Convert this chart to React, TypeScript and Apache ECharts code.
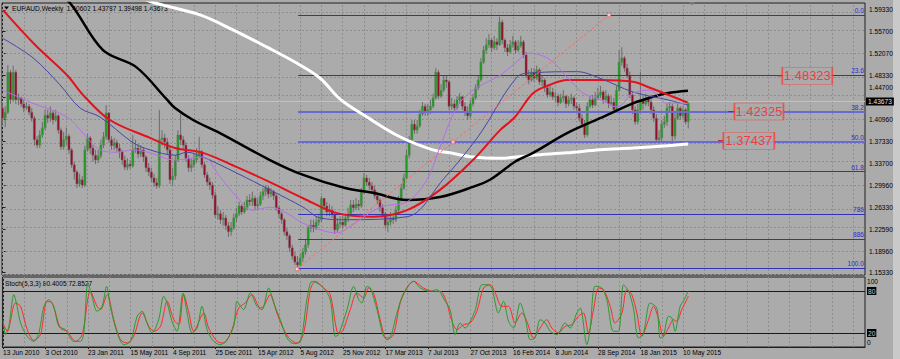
import React, { useEffect, useRef } from 'react';
import * as echarts from 'echarts';

// ---------------- data ----------------
const FIRST_OPEN = 1.429;
const CLOSES = [
  1.412,1.422,1.489,1.443,1.489,1.443,1.446,1.436,1.429,1.432,
  1.422,1.412,1.376,1.367,1.384,1.396,1.417,1.412,1.421,1.409,
  1.416,1.392,1.364,1.376,1.382,1.359,1.334,1.322,1.302,1.309,
  1.300,1.359,1.379,1.362,1.350,1.342,1.349,1.367,1.381,1.421,
  1.376,1.366,1.371,1.362,1.356,1.342,1.330,1.335,1.332,1.359,
  1.362,1.352,1.359,1.347,1.329,1.322,1.312,1.304,1.299,1.376,
  1.379,1.372,1.359,1.309,1.315,1.342,1.384,1.376,1.367,1.345,
  1.329,1.334,1.342,1.350,1.356,1.334,1.317,1.305,1.300,1.283,
  1.250,1.252,1.242,1.245,1.232,1.222,1.228,1.245,1.252,1.265,
  1.255,1.262,1.275,1.272,1.278,1.265,1.268,1.282,1.289,1.295,
  1.285,1.289,1.282,1.262,1.252,1.242,1.222,1.215,1.195,1.181,
  1.171,1.166,1.178,1.188,1.200,1.228,1.233,1.228,1.238,1.242,
  1.278,1.265,1.255,1.258,1.250,1.225,1.235,1.238,1.233,1.245,
  1.252,1.267,1.262,1.268,1.265,1.289,1.312,1.305,1.299,1.292,
  1.282,1.275,1.262,1.252,1.233,1.238,1.245,1.242,1.258,1.275,
  1.295,1.312,1.350,1.376,1.402,1.392,1.399,1.419,1.432,1.422,
  1.426,1.432,1.446,1.489,1.449,1.459,1.476,1.473,1.432,1.436,
  1.429,1.443,1.448,1.432,1.422,1.416,1.436,1.446,1.463,1.476,
  1.506,1.526,1.535,1.543,1.530,1.540,1.535,1.573,1.543,1.530,
  1.523,1.535,1.540,1.526,1.533,1.540,1.518,1.484,1.476,1.489,
  1.479,1.493,1.473,1.476,1.463,1.451,1.456,1.448,1.449,1.438,
  1.446,1.449,1.436,1.443,1.446,1.432,1.429,1.412,1.402,1.384,
  1.432,1.443,1.434,1.446,1.451,1.456,1.443,1.449,1.436,1.439,
  1.426,1.459,1.506,1.513,1.496,1.484,1.451,1.426,1.406,1.426,
  1.443,1.436,1.446,1.439,1.426,1.412,1.376,1.379,1.402,1.406,
  1.429,1.432,1.382,1.412,1.429,1.416,1.426,1.40602,1.43673
];
const HIGHS = [
  1.438,1.432,1.501,1.493,1.500,1.493,1.453,1.448,1.443,1.439,
  1.436,1.429,1.416,1.382,1.392,1.406,1.426,1.426,1.432,1.426,
  1.426,1.419,1.396,1.389,1.396,1.386,1.362,1.339,1.325,1.319,
  1.315,1.366,1.386,1.382,1.367,1.359,1.359,1.376,1.389,1.434,
  1.422,1.382,1.379,1.376,1.369,1.359,1.349,1.345,1.342,1.384,
  1.376,1.369,1.367,1.364,1.350,1.337,1.329,1.319,1.312,1.426,
  1.392,1.386,1.379,1.366,1.329,1.350,1.392,1.422,1.382,1.372,
  1.350,1.345,1.352,1.362,1.381,1.359,1.339,1.322,1.312,1.305,
  1.289,1.265,1.258,1.255,1.250,1.238,1.238,1.252,1.262,1.272,
  1.268,1.272,1.282,1.285,1.289,1.282,1.278,1.289,1.295,1.300,
  1.299,1.295,1.292,1.285,1.265,1.255,1.245,1.228,1.218,1.200,
  1.188,1.181,1.185,1.195,1.208,1.233,1.242,1.242,1.248,1.252,
  1.282,1.278,1.272,1.268,1.265,1.255,1.245,1.248,1.250,1.252,
  1.262,1.275,1.275,1.278,1.275,1.295,1.320,1.317,1.312,1.305,
  1.299,1.289,1.278,1.268,1.255,1.248,1.255,1.252,1.265,1.282,
  1.302,1.319,1.359,1.382,1.409,1.409,1.409,1.426,1.439,1.436,
  1.436,1.443,1.453,1.496,1.493,1.469,1.483,1.483,1.476,1.446,
  1.443,1.449,1.454,1.449,1.439,1.432,1.443,1.453,1.469,1.483,
  1.513,1.533,1.546,1.553,1.546,1.550,1.546,1.582,1.577,1.546,
  1.536,1.543,1.550,1.543,1.543,1.550,1.543,1.523,1.493,1.496,
  1.496,1.500,1.496,1.484,1.479,1.468,1.466,1.463,1.456,1.453,
  1.453,1.459,1.451,1.449,1.453,1.449,1.439,1.436,1.419,1.409,
  1.439,1.449,1.451,1.456,1.463,1.466,1.459,1.459,1.453,1.449,
  1.446,1.466,1.526,1.531,1.516,1.503,1.490,1.456,1.432,1.436,
  1.490,1.449,1.453,1.449,1.446,1.432,1.419,1.392,1.409,1.416,
  1.436,1.439,1.436,1.422,1.436,1.432,1.432,1.429,1.43787
];
const LOWS = [
  1.401,1.397,1.419,1.436,1.439,1.436,1.434,1.431,1.422,1.426,
  1.417,1.406,1.366,1.362,1.362,1.379,1.392,1.404,1.406,1.402,
  1.406,1.386,1.359,1.359,1.367,1.352,1.329,1.309,1.295,1.297,
  1.295,1.297,1.356,1.352,1.339,1.335,1.337,1.345,1.362,1.376,
  1.371,1.359,1.359,1.356,1.345,1.334,1.325,1.325,1.327,1.329,
  1.354,1.345,1.347,1.339,1.322,1.315,1.305,1.297,1.294,1.295,
  1.366,1.362,1.352,1.302,1.299,1.309,1.339,1.367,1.359,1.339,
  1.322,1.322,1.329,1.337,1.345,1.329,1.312,1.299,1.292,1.277,
  1.245,1.242,1.235,1.232,1.225,1.213,1.215,1.225,1.238,1.248,
  1.250,1.252,1.258,1.265,1.265,1.258,1.258,1.265,1.275,1.282,
  1.278,1.280,1.275,1.257,1.245,1.235,1.216,1.208,1.188,1.175,
  1.166,1.161,1.165,1.171,1.183,1.195,1.221,1.221,1.225,1.232,
  1.238,1.258,1.248,1.248,1.245,1.218,1.221,1.228,1.227,1.230,
  1.238,1.248,1.255,1.258,1.258,1.262,1.285,1.299,1.292,1.285,
  1.277,1.268,1.255,1.245,1.227,1.221,1.232,1.235,1.238,1.255,
  1.272,1.292,1.309,1.345,1.372,1.386,1.386,1.396,1.416,1.416,
  1.416,1.419,1.429,1.443,1.444,1.446,1.456,1.463,1.426,1.426,
  1.422,1.426,1.436,1.426,1.416,1.409,1.412,1.432,1.443,1.459,
  1.473,1.503,1.520,1.530,1.523,1.526,1.526,1.533,1.536,1.523,
  1.516,1.520,1.530,1.520,1.523,1.530,1.513,1.479,1.469,1.473,
  1.473,1.476,1.468,1.466,1.456,1.446,1.448,1.443,1.439,1.432,
  1.436,1.439,1.429,1.432,1.436,1.426,1.422,1.406,1.396,1.379,
  1.381,1.429,1.429,1.432,1.443,1.446,1.436,1.439,1.429,1.432,
  1.422,1.422,1.456,1.500,1.490,1.479,1.446,1.419,1.401,1.402,
  1.422,1.426,1.432,1.432,1.419,1.406,1.371,1.371,1.372,1.396,
  1.399,1.422,1.367,1.376,1.409,1.409,1.412,1.402,1.39498
];

const DATE_LABELS = [
  '13 Jun 2010','3 Oct 2010','23 Jan 2011','15 May 2011','4 Sep 2011','25 Dec 2011',
  '15 Apr 2012','5 Aug 2012','25 Nov 2012','17 Mar 2013','7 Jul 2013','27 Oct 2013',
  '16 Feb 2014','8 Jun 2014','28 Sep 2014','18 Jan 2015','10 May 2015'
];
const DATE_STEP = 16;
const PRICE_TICKS = [1.5933,1.557,1.5207,1.4833,1.447,1.4096,1.3733,1.337,1.2996,1.2633,1.2259,1.1896,1.1533];
const FIB_NAMES = ['0.0','23.6','38.2','50.0','61.8','786','886','100.0'];
const FIB_PRICES = [1.5849,1.4839,1.4229,1.3728,1.3227,1.2511,1.2092,1.1607];
const LEVEL_PRICES = [1.48323,1.42325,1.37437];
const TREND_FROM = [110.8, 1.1595];
const TREND_TO = [228.2, 1.5849];

// moving averages: [bar index, price]
const MA_WHITE = [[48,1.620],[57.4,1.605],[74.3,1.585],[86.7,1.560],[99.5,1.531],[110.8,1.504],[119.5,1.479],[127,1.444],[137.1,1.414],[149.5,1.381],[161.9,1.359],[168.4,1.354],[177,1.347],[187.2,1.345],[199.6,1.350],[212.4,1.354],[224.8,1.359],[237.2,1.362],[250,1.366],[257.9,1.369]];
const MA_BLACK = [[19.7,1.623],[25.4,1.605],[37.8,1.526],[50.2,1.498],[61.9,1.443],[64.9,1.429],[71.7,1.409],[81.8,1.387],[100.6,1.342],[113.1,1.317],[128.9,1.295],[139.4,1.287],[152.2,1.275],[164.6,1.280],[177,1.297],[183.4,1.309],[192.8,1.339],[199.6,1.354],[212.4,1.387],[224.8,1.412],[237.2,1.437],[244.7,1.448],[250,1.454],[257.9,1.458]];
const MA_RED = [[0.2,1.593],[12.2,1.535],[24.3,1.484],[30.3,1.451],[40.4,1.409],[55.5,1.379],[64.9,1.362],[75.4,1.354],[88.2,1.330],[100.6,1.305],[113.1,1.278],[125.8,1.253],[139.4,1.247],[152.2,1.258],[164.6,1.292],[177,1.342],[187.2,1.392],[192.8,1.414],[199.6,1.454],[206,1.468],[212.4,1.476],[224.8,1.476],[237.2,1.473],[243.6,1.463],[257.9,1.438]];
const MA_BLUE = [[0,1.546],[11.5,1.513],[21.6,1.468],[29.2,1.429],[36.7,1.414],[49.1,1.371],[55.5,1.359],[64.9,1.350],[69.4,1.355],[75.4,1.347],[88.2,1.320],[100.6,1.292],[113.1,1.263],[119.5,1.245],[128.9,1.242],[152.2,1.247],[165.7,1.309],[178.9,1.381],[193.6,1.481],[199.6,1.488],[216.1,1.490],[224.8,1.479],[237.2,1.456],[250,1.443],[257.9,1.434]];
const MA_PURPLE = [[0,1.459],[11.5,1.437],[24.3,1.414],[30.3,1.387],[36.7,1.359],[43.1,1.355],[49.1,1.359],[55.5,1.354],[64.9,1.342],[75.4,1.347],[81.8,1.314],[88.2,1.280],[94.2,1.258],[100.6,1.263],[107,1.253],[113.1,1.236],[125.8,1.220],[128.9,1.225],[142,1.263],[152.2,1.272],[159.7,1.309],[164.6,1.364],[171,1.431],[177,1.459],[187.2,1.484],[192.8,1.504],[198.5,1.521],[206,1.510],[212.4,1.481],[218.4,1.454],[224.8,1.443],[231.2,1.431],[237.2,1.454],[243.6,1.459],[250,1.437],[257.9,1.437]];

// stochastic (5,3,3): [bar index, value]
const STOCH_K = [[0,39],[1,17.6],[2.2,29.5],[4.1,74.8],[5.3,58.1],[6.6,34.3],[9.1,15.2],[11.6,8.1],[13.5,20],[15.4,58.1],[17.2,67.6],[19.1,58.1],[21,29.5],[23.5,24.8],[26.6,8.1],[29.2,8.1],[30.4,20],[32,91.4],[33.5,72.4],[35.4,51],[37.3,58.1],[39,86.7],[40.4,58.1],[43,20],[45.5,3.3],[48,8.1],[50.5,43.8],[52.4,51],[54.2,34.3],[56.1,20],[58.6,39],[60.5,72.4],[61.8,62.9],[63.6,36.7],[65.5,22.4],[67.8,77.1],[69.3,48.6],[71.2,20],[73.1,27.1],[74.9,58.1],[76.8,24.8],[79.3,8.1],[81.8,3.3],[84.3,10.5],[86.8,29.5],[88.1,65.2],[89.4,58.1],[90.6,53.3],[93.1,77.1],[95.6,58.1],[97.5,53.3],[100,84.3],[101.9,62.9],[104.4,39],[106.9,12.9],[109.4,4.8],[112,8.1],[114.4,67.6],[116.3,93.8],[118.2,91.4],[120.7,84.3],[123.2,67.6],[125.1,15.2],[126.3,17.6],[129.5,53.3],[132,86.7],[133.9,67.6],[135.1,62.9],[137,86.7],[138.3,84.3],[140.8,53.3],[143.3,15.2],[145.2,12.9],[148.3,48.6],[150.8,77.1],[154.6,93.8],[157.1,84.3],[160.8,79.5],[163.3,81.9],[166.5,65.2],[168.4,52],[170.2,17.6],[172.1,34.3],[174,27.1],[175.9,36.7],[177.8,53.3],[180.3,89],[182.2,89],[184,84.3],[186.5,48.6],[188.4,65.2],[190.3,36.7],[192.2,27.1],[194.7,62.9],[196.6,41.4],[198.5,10.5],[200.3,12.9],[202.2,39],[204.1,34.3],[206,22.4],[208.5,17.6],[211.6,34.3],[213.5,27.1],[216,48.6],[217.3,55.7],[219.8,3.3],[221,24.8],[222.9,86.7],[225.4,84.3],[227.3,67.6],[229.8,22.4],[231.7,22.4],[233.6,89],[235.5,79.5],[237.3,55.7],[239.2,12.9],[241.1,20],[243.6,62.9],[246.1,55.7],[247.4,12.9],[248.6,15.2],[250.5,43.8],[251.8,41.4],[253,22.4],[254.9,58.1],[256.1,65.2],[258,80.4005]];
const STOCH_D = [[0,34.3],[1.6,22.4],[4.7,62.9],[6.6,58.1],[9.1,24.8],[11.6,9.5],[14.1,17.6],[16.6,65.2],[18.5,62.9],[21.6,27.1],[24.1,22.4],[27.3,8.1],[29.8,17.6],[32.9,79.5],[35.4,58.1],[36.7,53.3],[39.2,74.8],[41.7,39],[44.2,10.5],[46.7,5.7],[49.2,15.2],[52.4,48.6],[54.9,29.5],[56.8,22.4],[59.3,29.5],[61.8,65.2],[64.3,39],[66.2,31.9],[68,74.8],[70,48.6],[71.8,22.4],[75.6,48.6],[77.4,27.1],[80.6,8.1],[83.1,5.7],[86.2,24.8],[88.7,55.7],[91.2,62.9],[93.7,74.8],[96.9,55.7],[98.1,58.1],[100.6,74.8],[103.1,48.6],[105.7,24.8],[108.2,10.5],[110.7,5.7],[113.2,20],[115.7,81.9],[117.6,93.8],[120.7,84.3],[123.2,74.8],[125.7,22.4],[127,20],[130.7,53.3],[133.2,77.1],[135.8,70],[137.6,84.3],[139.5,77.1],[142,39],[144.5,10.5],[147,17.6],[149.5,62.9],[152.1,84.3],[154.6,93.8],[158.3,84.3],[162.1,79.5],[164.6,79.5],[167.1,62.9],[168.4,43.8],[170.9,24.8],[173.4,31.9],[175.9,34.3],[178.4,51],[180.9,84.3],[183.4,89],[185.3,77.1],[187.8,58.1],[190.3,58.1],[192.8,34.3],[195.3,48.6],[197.2,36.7],[199.7,12.9],[202.2,27.1],[204.7,39],[206.6,27.1],[209.1,20],[211.6,29.5],[214.1,31.9],[216.6,43.8],[218.5,48.6],[220.4,20],[222.3,53.3],[224.2,84.3],[226.1,81.9],[228.6,58.1],[230.4,34.3],[233,48.6],[234.8,81.9],[236.7,74.8],[238.6,48.6],[240.5,15.2],[243,39],[244.9,58.1],[246.7,41.4],[248.6,15.2],[250.5,27.1],[252.4,39],[253.6,36.7],[255.5,53.3],[257.4,67.6],[258,72.8527]];
const STOCH_LEVELS = [20, 80];
const STOCH_TICKS = [0, 20, 80, 100];

// ---------------- layout / style ----------------
const BG = '#ababab';
const GRIDC = '#8e8e8e';
const FONT = '"Liberation Sans", Arial, sans-serif';
const FS = 6.6;
const GL = 2, GW = 863;
const MAIN_TOP = 3, MAIN_H = 272;
const ST_TOP = 277, ST_H = 70;
const X_MIN = -0.2, X_MAX = 324.5;
const Y_MIN = 1.1494, Y_MAX = 1.605;
const FIB_FROM_BAR = 111.2;
const BOX_BAR = [302.8, 284.6, 280.8];
const BOX_W = [50, 49, 51];
const STUB = [[291.4, 293.6], [273.0, 275.6], [269.2, 271.4]];
const UP = '#1c9e1c';
const DOWN = '#920e28';
const WICK = '#6c6c6c';

function buildOption() {
  const candles = CLOSES.map((c, i) => {
    const o = i === 0 ? FIRST_OPEN : CLOSES[i - 1];
    return [i, o, c, Math.min(LOWS[i], o, c), Math.max(HIGHS[i], o, c)];
  });
  const last = candles[candles.length - 1];
  const vGrid: number[] = [];
  for (let b = 0; b <= X_MAX; b += 8) vGrid.push(b);
  const dateTicks = DATE_LABELS.map((_, i) => i * DATE_STEP);

  const dash = { type: [2, 2] as any, color: GRIDC, width: 1 };
  const lineMA = (data: number[][], color: string, width: number, z: number) => ({
    type: 'line', xAxisIndex: 0, yAxisIndex: 0, data, smooth: 0.35, symbol: 'none', silent: true, z,
    lineStyle: { color, width }, clip: true,
  });

  return {
    animation: false,
    backgroundColor: BG,
    textStyle: { fontFamily: FONT },
    grid: [
      { left: GL, top: MAIN_TOP, width: GW, height: MAIN_H, show: true, borderColor: '#202020', borderWidth: 1, backgroundColor: 'transparent' },
      { left: GL, top: ST_TOP, width: GW, height: ST_H, show: true, borderColor: '#202020', borderWidth: 1, backgroundColor: 'transparent' },
    ],
    xAxis: [
      { type: 'value', gridIndex: 0, min: X_MIN, max: X_MAX, show: false, splitLine: { show: false } },
      {
        type: 'value', gridIndex: 1, min: X_MIN, max: X_MAX, splitLine: { show: false },
        axisLine: { show: true, lineStyle: { color: '#202020' } },
        axisTick: { show: true, customValues: dateTicks, length: 2, lineStyle: { color: '#202020' } },
        axisLabel: {
          customValues: dateTicks, align: 'left', margin: 1.5, fontSize: FS, color: '#000', fontFamily: FONT,
          formatter: (v: number) => DATE_LABELS[Math.round(v / DATE_STEP)] || '',
        },
      },
    ],
    yAxis: [
      {
        type: 'value', gridIndex: 0, position: 'right', min: Y_MIN, max: Y_MAX, splitLine: { show: false },
        axisLine: { show: true, lineStyle: { color: '#202020' } },
        axisTick: { show: true, customValues: PRICE_TICKS, length: 3, lineStyle: { color: '#202020' } },
        axisLabel: {
          customValues: PRICE_TICKS, margin: 4, fontSize: FS, color: '#000', fontFamily: FONT,
          formatter: (v: number) => (Math.abs(v - 1.447) < 1e-6 ? '{up|' + v.toFixed(5) + '}' : v.toFixed(5)),
          rich: { up: { padding: [0, 0, 19, 0], fontSize: FS, fontFamily: FONT, color: '#000' } },
        },
      },
      {
        type: 'value', gridIndex: 1, position: 'right', min: 0, max: 100, splitLine: { show: false },
        axisLine: { show: true, lineStyle: { color: '#202020' } },
        axisTick: { show: false },
        axisLabel: {
          customValues: STOCH_TICKS, margin: 2, fontSize: FS, color: '#000', fontFamily: FONT,
          formatter: (v: number) => (v === 100 ? '{top|100}' : v === 0 ? '{bot|0}' : '{box|' + v + '}'),
          rich: {
            top: { padding: [9, 0, 0, 0], fontSize: FS, fontFamily: FONT, color: '#000' },
            bot: { padding: [0, 0, 9, 0], fontSize: FS, fontFamily: FONT, color: '#000' },
            box: { backgroundColor: '#000', color: '#cfcfcf', padding: [1, 1, 0, 1], fontSize: FS, fontFamily: FONT },
          },
        },
      },
    ],
    graphic: [
      { type: 'rect', shape: { x: 893, y: 0, width: 7, height: 359 }, style: { fill: '#c9c9c9' }, silent: true, z: -1 },
      { type: 'polygon', shape: { points: [[4, 6.5], [9, 6.5], [6.5, 9.5]] }, style: { fill: '#000' }, silent: true },
      { type: 'text', left: 12, top: 4.5, silent: true, style: {
        text: 'EURAUD,Weekly  ' + [last[1], last[4], last[3], last[2]].map((v) => v.toFixed(5)).join(' '),
        font: `${FS}px ${FONT}`, fill: '#000' } },
      { type: 'text', left: 5, top: 279.5, silent: true, style: {
        text: 'Stoch(5,3,3) ' + STOCH_K[STOCH_K.length - 1][1].toFixed(4) + ' ' + STOCH_D[STOCH_D.length - 1][1].toFixed(4),
        font: `${FS}px ${FONT}`, fill: '#000' } },
      { type: 'polygon', shape: { points: [[689, 2], [695, 2], [692, 5.5]] }, style: { fill: '#7a7a7a' }, silent: true },
    ],
    series: [
      {
        type: 'line', xAxisIndex: 0, yAxisIndex: 0, data: [], silent: true,
        markLine: {
          silent: true, symbol: 'none', z: 1, label: { show: false }, lineStyle: dash, emphasis: { disabled: true },
          data: [...vGrid.map((b) => ({ xAxis: b })), ...PRICE_TICKS.map((p) => ({ yAxis: p }))],
        },
      },
      {
        type: 'line', xAxisIndex: 0, yAxisIndex: 0, data: [], silent: true,
        markLine: {
          silent: true, symbol: 'none', z: 2, emphasis: { disabled: true },
          lineStyle: { type: 'solid', color: '#c2c2c2', width: 1 },
          label: { show: true, position: 'end', distance: 1, formatter: () => last[2].toFixed(5),
            backgroundColor: '#000', color: '#e0e0e0', padding: [1, 2, 0, 2], fontSize: FS, fontFamily: FONT },
          data: [{ yAxis: last[2] }],
        },
      },
      {
        type: 'custom', xAxisIndex: 0, yAxisIndex: 0, data: candles, encode: { x: 0, y: [1, 2, 3, 4] }, z: 3, silent: true,
        clip: true,
        renderItem: (params: any, api: any) => {
          const x = api.value(0);
          const o = api.value(1), c = api.value(2), l = api.value(3), h = api.value(4);
          const pO = api.coord([x, o]), pC = api.coord([x, c]), pL = api.coord([x, l]), pH = api.coord([x, h]);
          const top = Math.min(pO[1], pC[1]);
          const hh = Math.max(Math.abs(pO[1] - pC[1]), 1);
          return {
            type: 'group',
            children: [
              { type: 'line', shape: { x1: pL[0], y1: pL[1], x2: pH[0], y2: pH[1] }, style: { stroke: WICK, lineWidth: 1 } },
              { type: 'rect', shape: { x: pO[0] - 1.1, y: top, width: 2.2, height: hh }, style: { fill: c >= o ? UP : DOWN, stroke: '#7a7a7a', lineWidth: 0.4 } },
            ],
          };
        },
      },
      {
        type: 'line', xAxisIndex: 0, yAxisIndex: 0, data: [], silent: true,
        markLine: {
          silent: true, symbol: 'none', z: 4, emphasis: { disabled: true },
          label: { show: true, position: 'insideEndTop', distance: 1, formatter: (p: any) => p.name,
            color: '#2b2bd0', fontSize: FS, fontFamily: FONT },
          data: FIB_PRICES.map((p, i) => {
            const thick = i === 2 || i === 3;
            return [
              { name: FIB_NAMES[i], coord: [FIB_FROM_BAR, p], lineStyle: { type: 'solid', color: thick ? '#6a6ad4' : '#3232b4', width: thick ? 2 : 1 } },
              { coord: [X_MAX, p] },
            ];
          }),
        },
      },
      lineMA(MA_WHITE, '#ffffff', 3, 6),
      lineMA(MA_BLACK, '#000000', 2.5, 6),
      lineMA(MA_RED, '#e3121c', 2, 6),
      lineMA(MA_BLUE, '#4646a6', 1, 6),
      lineMA(MA_PURPLE, '#b66ee8', 1, 6),
      {
        type: 'line', xAxisIndex: 0, yAxisIndex: 0, data: [TREND_FROM, TREND_TO], symbol: 'none', silent: true, z: 7,
        lineStyle: { type: [3, 2] as any, color: '#ff6a6a', width: 1 },
      },
      {
        type: 'scatter', xAxisIndex: 0, yAxisIndex: 0, silent: true, z: 7, symbol: 'rect', symbolSize: 3.5,
        itemStyle: { color: '#e8e8e8', borderColor: '#ff5050', borderWidth: 0.8 },
        data: [TREND_FROM, [(TREND_FROM[0] + TREND_TO[0]) / 2, (TREND_FROM[1] + TREND_TO[1]) / 2], TREND_TO],
      },
      ...LEVEL_PRICES.map((p, i) => ({
        type: 'line', xAxisIndex: 0, yAxisIndex: 0, data: [[STUB[i][0], p], [STUB[i][1], p]], symbol: 'none', silent: true, z: 7,
        lineStyle: { color: '#c01818', width: 1 },
      })),
      {
        type: 'scatter', xAxisIndex: 0, yAxisIndex: 0, silent: true, z: 8, symbol: 'rect',
        data: LEVEL_PRICES.map((p, i) => ({ value: [BOX_BAR[i], p], symbolSize: [BOX_W[i], 17] })),
        itemStyle: { color: BG, borderColor: '#ff3a3a', borderWidth: 1 },
        label: { show: true, position: 'inside', formatter: (q: any) => q.value[1].toFixed(5), color: '#ff2222', fontSize: 13, fontFamily: FONT },
      },
      {
        type: 'line', xAxisIndex: 1, yAxisIndex: 1, data: [], silent: true,
        markLine: {
          silent: true, symbol: 'none', z: 1, label: { show: false }, emphasis: { disabled: true },
          data: [
            ...vGrid.map((b) => ({ xAxis: b, lineStyle: dash })),
            ...STOCH_LEVELS.map((v) => ({ yAxis: v, lineStyle: { type: 'solid', color: '#1a1a1a', width: 1 } })),
          ],
        },
      },
      {
        type: 'line', xAxisIndex: 1, yAxisIndex: 1, data: STOCH_D, smooth: 0.3, symbol: 'none', silent: true, z: 5,
        lineStyle: { color: '#ff2a2a', width: 1 },
      },
      {
        type: 'line', xAxisIndex: 1, yAxisIndex: 1, data: STOCH_K, smooth: 0.3, symbol: 'none', silent: true, z: 5,
        lineStyle: { color: '#2c9a2c', width: 1 },
      },
    ],
  };
}

export default function App() {
  const ref = useRef<HTMLDivElement>(null);
  useEffect(() => {
    if (!ref.current) return;
    const chart = echarts.init(ref.current, null, { renderer: 'svg', width: 900, height: 359 });
    chart.setOption(buildOption() as any);
    return () => chart.dispose();
  }, []);
  return (
    <div
      ref={ref}
      style={{ position: 'fixed', left: 0, top: 0, width: 900, height: 359, background: BG }}
    />
  );
}
